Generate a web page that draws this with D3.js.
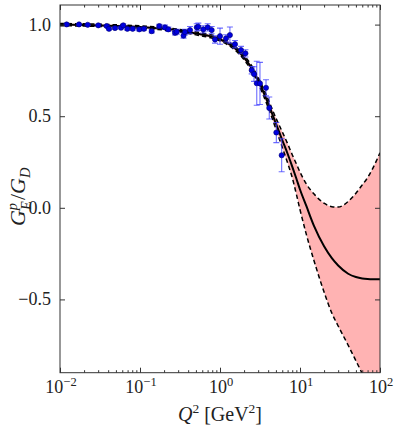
<!DOCTYPE html>
<html>
<head>
<meta charset="utf-8">
<script src="https://cdn.jsdelivr.net/npm/d3@7"></script>
<style>
  body { margin: 0; background: white; }
  svg { display: block; }
  svg text { font-family: "Liberation Serif", "DejaVu Serif", serif; }
</style>
</head>
<body>
<div id="chart"></div>
<script>
/* CONSTANTS AND GLOBALS */
const width = 399;
const height = 436;
const margin = { top: 5, right: 19, bottom: 63.3, left: 60 };

/* DATA */
// fit: central curve and error band edges on a Q^2 grid
const qGrid = [0.01, 0.02, 0.05, 0.1, 0.2, 0.3, 0.5, 0.7, 1, 1.5, 2, 2.5, 3, 4, 5, 6, 7, 8, 9, 10, 12, 15, 20, 25, 30, 40, 50, 60, 70, 80, 100];
const fitCentral = [1.0, 0.998, 0.993, 0.987, 0.977, 0.968, 0.952, 0.94, 0.92, 0.875, 0.82, 0.76, 0.695, 0.57, 0.46, 0.37, 0.295, 0.225, 0.16, 0.10, 0.01, -0.10, -0.21, -0.275, -0.315, -0.36, -0.378, -0.386, -0.389, -0.39, -0.39];
const fitUpper = [1.006, 1.004, 0.999, 0.993, 0.984, 0.975, 0.96, 0.948, 0.929, 0.885, 0.832, 0.774, 0.712, 0.592, 0.49, 0.415, 0.35, 0.29, 0.24, 0.195, 0.13, 0.075, 0.025, 0.006, 0.004, 0.035, 0.08, 0.125, 0.165, 0.21, 0.30];
const fitLower = [0.994, 0.992, 0.987, 0.981, 0.97, 0.961, 0.944, 0.932, 0.911, 0.865, 0.808, 0.746, 0.678, 0.548, 0.43, 0.33, 0.245, 0.165, 0.075, -0.01, -0.145, -0.29, -0.46, -0.575, -0.645, -0.75, -0.835, -0.905, -0.965, -1.02, -1.12];

// measured points
const dataQ2 = [0.0121, 0.0173, 0.0222, 0.0301, 0.0384, 0.041, 0.0487, 0.0579, 0.0618, 0.0694, 0.081, 0.098, 0.112, 0.140, 0.174, 0.205, 0.226, 0.274, 0.288, 0.350, 0.365, 0.422, 0.512, 0.536, 0.618, 0.702, 0.787, 0.866, 1.0, 1.19, 1.33, 1.54, 1.83, 2.08, 2.49, 2.66, 2.88, 3.16, 3.76, 4.13, 5.06, 5.90];
const dataGE = [1.001, 1.001, 0.999, 0.996, 0.992, 0.977, 0.981, 0.983, 0.996, 0.977, 0.977, 0.974, 0.977, 0.964, 0.992, 0.985, 0.974, 0.955, 0.961, 0.940, 0.959, 0.970, 0.985, 0.988, 0.974, 0.985, 0.970, 0.919, 0.937, 0.925, 0.943, 0.893, 0.861, 0.843, 0.751, 0.730, 0.680, 0.679, 0.655, 0.545, 0.411, 0.287];
const dataErr = [0.004, 0.004, 0.004, 0.005, 0.005, 0.006, 0.006, 0.006, 0.007, 0.007, 0.008, 0.008, 0.008, 0.009, 0.01, 0.012, 0.012, 0.012, 0.013, 0.014, 0.015, 0.02, 0.02, 0.02, 0.02, 0.02, 0.02, 0.02, 0.044, 0.02, 0.044, 0.02, 0.02, 0.02, 0.02, 0.04, 0.12, 0.115, 0.044, 0.06, 0.055, 0.09];

const xMajor = [0.01, 0.1, 1, 10, 100];
const xMajorExp = ["\u22122", "\u22121", "0", "1", "2"];
const yTicks = [-0.5, 0.0, 0.5, 1.0];

const fit = qGrid.map((q, i) => ({ q, c: fitCentral[i], lo: fitLower[i], hi: fitUpper[i] }));
const points = dataQ2.map((q, i) => ({ q, v: dataGE[i], e: dataErr[i] }));

/* SCALES */
const xScale = d3.scaleLog()
  .domain([0.01, 100])
  .range([margin.left, width - margin.right]);

const yScale = d3.scaleLinear()
  .domain([-0.9, 1.107])
  .range([height - margin.bottom, margin.top]);

const xMinor = [];
for (let p = -2; p < 2; p++) {
  for (let k = 2; k <= 9; k++) xMinor.push(k * Math.pow(10, p));
}

/* HTML ELEMENTS */
const svg = d3.select("#chart")
  .append("svg")
  .attr("width", width)
  .attr("height", height)
  .style("background-color", "white");

svg.append("clipPath")
  .attr("id", "plot-clip")
  .append("rect")
  .attr("x", margin.left)
  .attr("y", margin.top)
  .attr("width", width - margin.left - margin.right)
  .attr("height", height - margin.top - margin.bottom);

const plot = svg.append("g").attr("clip-path", "url(#plot-clip)");

// error band
plot.append("path")
  .datum(fit)
  .attr("fill", "#ffb3b3")
  .attr("stroke", "none")
  .attr("d", d3.area()
    .x(d => xScale(d.q))
    .y0(d => yScale(d.lo))
    .y1(d => yScale(d.hi))
    .curve(d3.curveMonotoneX));

// band edges (dashed)
;["lo", "hi"].forEach(key => {
  plot.append("path")
    .datum(fit)
    .attr("fill", "none")
    .attr("stroke", "black")
    .attr("stroke-width", 1.5)
    .attr("stroke-dasharray", "4.5,3")
    .attr("d", d3.line()
      .x(d => xScale(d.q))
      .y(d => yScale(d[key]))
      .curve(d3.curveMonotoneX));
});

// central fit
plot.append("path")
  .datum(fit)
  .attr("fill", "none")
  .attr("stroke", "black")
  .attr("stroke-width", 2)
  .attr("d", d3.line()
    .x(d => xScale(d.q))
    .y(d => yScale(d.c))
    .curve(d3.curveMonotoneX));

// error bars
const bars = plot.append("g")
  .attr("stroke", "#3c3cff")
  .attr("stroke-opacity", 0.75)
  .attr("stroke-width", 1.1)
  .selectAll("g")
  .data(points)
  .join("g");

bars.append("line")
  .attr("x1", d => xScale(d.q))
  .attr("x2", d => xScale(d.q))
  .attr("y1", d => yScale(d.v - d.e))
  .attr("y2", d => yScale(d.v + d.e));

[-1, 1].forEach(s => {
  bars.append("line")
    .attr("x1", d => xScale(d.q) - 3)
    .attr("x2", d => xScale(d.q) + 3)
    .attr("y1", d => yScale(d.v + s * d.e))
    .attr("y2", d => yScale(d.v + s * d.e));
});

// points
plot.append("g")
  .selectAll("circle")
  .data(points)
  .join("circle")
  .attr("cx", d => xScale(d.q))
  .attr("cy", d => yScale(d.v))
  .attr("r", 2.6)
  .attr("fill", "#0000e0")
  .attr("stroke", "#000070")
  .attr("stroke-width", 0.6);

/* AXES */
const frameColor = "#333";
const bottomY = height - margin.bottom;
const rightX = width - margin.right;

const styleAxis = g => {
  g.select(".domain").remove();
  g.selectAll("line").attr("stroke", frameColor).attr("stroke-width", 1);
  g.selectAll("text").remove();
};

// x major / minor, bottom and top, ticks pointing inward
svg.append("g").attr("transform", `translate(0,${bottomY})`)
  .call(d3.axisBottom(xScale).tickValues(xMajor).tickSize(-5)).call(styleAxis);
svg.append("g").attr("transform", `translate(0,${bottomY})`)
  .call(d3.axisBottom(xScale).tickValues(xMinor).tickSize(-2.5)).call(styleAxis);
svg.append("g").attr("transform", `translate(0,${margin.top})`)
  .call(d3.axisTop(xScale).tickValues(xMajor).tickSize(-5)).call(styleAxis);
svg.append("g").attr("transform", `translate(0,${margin.top})`)
  .call(d3.axisTop(xScale).tickValues(xMinor).tickSize(-2.5)).call(styleAxis);

// y ticks left and right
svg.append("g").attr("transform", `translate(${margin.left},0)`)
  .call(d3.axisLeft(yScale).tickValues(yTicks).tickSize(-5)).call(styleAxis);
svg.append("g").attr("transform", `translate(${rightX},0)`)
  .call(d3.axisRight(yScale).tickValues(yTicks).tickSize(-5)).call(styleAxis);

// frame
svg.append("rect")
  .attr("x", margin.left)
  .attr("y", margin.top)
  .attr("width", rightX - margin.left)
  .attr("height", bottomY - margin.top)
  .attr("fill", "none")
  .attr("stroke", frameColor)
  .attr("stroke-width", 1);

// x tick labels: 10^n
const xLab = svg.append("g")
  .attr("fill", "#222")
  .attr("text-anchor", "middle")
  .selectAll("text")
  .data(xMajor)
  .join("text")
  .attr("x", d => xScale(d) + 1)
  .attr("y", bottomY + 20.5)
  .attr("font-size", 18);
xLab.append("tspan").text("10");
xLab.append("tspan")
  .attr("font-size", 12.5)
  .attr("dy", -7.5)
  .text((d, i) => xMajorExp[i]);

// y tick labels
svg.append("g")
  .attr("font-size", 18)
  .attr("fill", "#222")
  .attr("text-anchor", "end")
  .selectAll("text")
  .data(yTicks)
  .join("text")
  .attr("x", margin.left - 9)
  .attr("y", d => yScale(d) + 6)
  .text(d => (d < 0 ? "\u2212" : "") + d3.format(".1f")(Math.abs(d)));

// x axis title
const xt = svg.append("text")
  .attr("font-size", 20)
  .attr("fill", "#222")
  .attr("text-anchor", "middle")
  .attr("x", 220)
  .attr("y", 421);
xt.append("tspan").attr("font-style", "italic").text("Q");
xt.append("tspan").attr("font-size", 13.5).attr("dy", -8).text("2");
xt.append("tspan").attr("dy", 8).text(" [GeV");
xt.append("tspan").attr("font-size", 13.5).attr("dy", -8).text("2");
xt.append("tspan").attr("dy", 8).text("]");

// y axis title
const yt = svg.append("text")
  .attr("font-size", 22)
  .attr("fill", "#222")
  .attr("text-anchor", "middle")
  .attr("transform", `translate(25,${(margin.top + bottomY) / 2 + 8}) rotate(-90)`);
yt.append("tspan").attr("font-style", "italic").text("G");
yt.append("tspan").attr("font-style", "italic").attr("font-size", 14.5).attr("dy", -8).text("p");
yt.append("tspan").attr("font-style", "italic").attr("font-size", 14.5).attr("dx", -7).attr("dy", 14).text("E");
yt.append("tspan").attr("dx", 1).attr("dy", -6).text("/");
yt.append("tspan").attr("font-style", "italic").text("G");
yt.append("tspan").attr("font-style", "italic").attr("font-size", 14.5).attr("dy", 5).text("D");
</script>
</body>
</html>
